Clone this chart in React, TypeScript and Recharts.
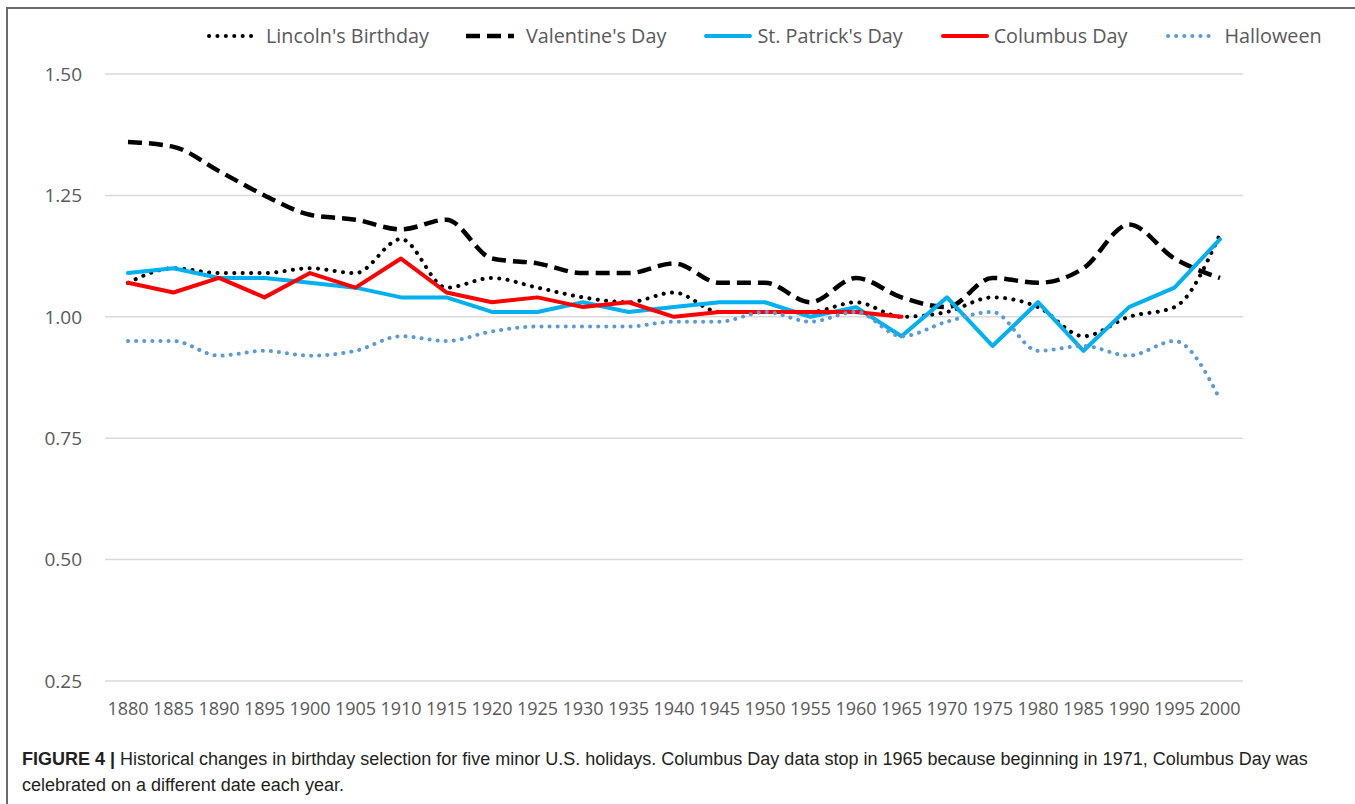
import React from 'react';
import { LineChart, Line, XAxis, YAxis, CartesianGrid, Legend } from 'recharts';

const years = ['1880','1885','1890','1895','1900','1905','1910','1915','1920','1925','1930','1935','1940','1945','1950','1955','1960','1965','1970','1975','1980','1985','1990','1995','2000'];
const lincoln = [1.07,1.10,1.09,1.09,1.10,1.09,1.16,1.06,1.08,1.06,1.04,1.03,1.05,1.01,1.01,1.01,1.03,1.00,1.01,1.04,1.02,0.96,1.00,1.02,1.17];
const valentine = [1.36,1.35,1.30,1.25,1.21,1.20,1.18,1.20,1.12,1.11,1.09,1.09,1.11,1.07,1.07,1.03,1.08,1.04,1.02,1.08,1.07,1.10,1.19,1.12,1.08];
const stPatrick = [1.09,1.10,1.08,1.08,1.07,1.06,1.04,1.04,1.01,1.01,1.03,1.01,1.02,1.03,1.03,1.00,1.02,0.96,1.04,0.94,1.03,0.93,1.02,1.06,1.16];
const columbus: (number | null)[] = [1.07,1.05,1.08,1.04,1.09,1.06,1.12,1.05,1.03,1.04,1.02,1.03,1.00,1.01,1.01,1.01,1.01,1.00,null,null,null,null,null,null,null];
const halloween = [0.95,0.95,0.92,0.93,0.92,0.93,0.96,0.95,0.97,0.98,0.98,0.98,0.99,0.99,1.01,0.99,1.01,0.96,0.99,1.01,0.93,0.94,0.92,0.95,0.83];
const yTicks = [0.25, 0.5, 0.75, 1.0, 1.25, 1.5];

const captionLabel = 'FIGURE 4 |';
const captionLine1 = 'Historical changes in birthday selection for five minor U.S. holidays. Columbus Day data stop in 1965 because beginning in 1971, Columbus Day was';
const captionLine2 = 'celebrated on a different date each year.';

const data = years.map((y, i) => ({
  year: y,
  lincoln: lincoln[i],
  valentine: valentine[i],
  stPatrick: stPatrick[i],
  columbus: columbus[i],
  halloween: halloween[i],
}));

type S = { key: string; name: string; color: string; width: number; dash?: string; cap: 'round' | 'butt'; curve: 'monotone' | 'linear' };
const series: S[] = [
  { key: 'lincoln', name: "Lincoln's Birthday", color: '#000000', width: 4, dash: '0.1 8.3', cap: 'round', curve: 'monotone' },
  { key: 'valentine', name: "Valentine's Day", color: '#000000', width: 4.5, dash: '14 7', cap: 'butt', curve: 'monotone' },
  { key: 'stPatrick', name: "St. Patrick's Day", color: '#00b0f0', width: 4, cap: 'round', curve: 'linear' },
  { key: 'columbus', name: 'Columbus Day', color: '#ff0000', width: 4, cap: 'round', curve: 'linear' },
  { key: 'halloween', name: 'Halloween', color: '#5b9bd5', width: 4, dash: '0.1 8', cap: 'round', curve: 'monotone' },
];

const FONT = '"Open Sans", sans-serif';

const LegendContent = (props: any) => {
  const payload = [...(props.payload || [])].sort(
    (a: any, b: any) => series.findIndex((s) => s.name === a.value) - series.findIndex((s) => s.name === b.value)
  );
  return (
    <div style={{ display: 'flex', alignItems: 'center', whiteSpace: 'nowrap', fontFamily: FONT, fontSize: 19.8, color: '#595959' }}>
      {payload.map((p: any, i: number) => {
        const s = series.find((x) => x.name === p.value) || series[0];
        return (
          <div key={i} style={{ display: 'flex', alignItems: 'center', marginRight: i < payload.length - 1 ? 37 : 0 }}>
            <svg width={50} height={10} style={{ display: 'block' }}>
              <line x1={s.cap === 'round' ? 3 : 0} y1={5} x2={s.cap === 'round' ? 47 : 48} y2={5} stroke={s.color} strokeWidth={s.width}
                strokeDasharray={s.dash} strokeLinecap={s.cap} />
            </svg>
            <span style={{ marginLeft: s.dash ? 10 : 4 }}>{p.value}</span>
          </div>
        );
      })}
    </div>
  );
};

export default function App() {
  const capStyle: React.CSSProperties = { fontFamily: '"Liberation Sans", Arial, sans-serif', fontSize: 18, lineHeight: '26px', color: '#231f20', whiteSpace: 'nowrap' };
  return (
    <div style={{ position: 'absolute', left: 0, top: 0, width: 1355, height: 804, background: '#fff', overflow: 'hidden' }}>
      <div style={{ position: 'absolute', left: 6, top: 7, width: 1400, height: 900, borderLeft: '2px solid #6b6b6b', borderTop: '2px solid #6b6b6b' }} />
      <div style={{ position: 'absolute', left: 0, top: 0 }}>
        <LineChart width={1355} height={740} data={data} margin={{ top: 74, right: 112, bottom: 0, left: 0 }}>
          <CartesianGrid vertical={false} stroke="#d9d9d9" strokeWidth={1.5} />
          <XAxis dataKey="year" axisLine={false} tickLine={false} interval={0} height={59} tickMargin={15}
            padding={{ left: 23, right: 23 }}
            tick={{ fontFamily: FONT, fontSize: 18, fill: '#595959' }} />
          <YAxis domain={[0.25, 1.5]} ticks={yTicks} axisLine={false} tickLine={false} width={105} tickMargin={17}
            tickFormatter={(v: number) => v.toFixed(2)} tick={{ fontFamily: FONT, fontSize: 19, fill: '#595959' }} />
          <Legend verticalAlign="middle" align="center" layout="horizontal" content={LegendContent}
            wrapperStyle={{ top: 22, left: 206, width: 'auto', height: 'auto' }} />
          {series.map((s) => (
            <Line key={s.key} dataKey={s.key} name={s.name} type={s.curve} stroke={s.color} strokeWidth={s.width}
              strokeDasharray={s.dash} strokeLinecap={s.cap} strokeLinejoin="round" dot={false} activeDot={false}
              isAnimationActive={false} connectNulls={false} />
          ))}
        </LineChart>
      </div>
      <div style={{ ...capStyle, position: 'absolute', left: 22, top: 746 }}>
        <span style={{ fontWeight: 'bold' }}>{captionLabel}</span> <span>{captionLine1}</span>
      </div>
      <div style={{ ...capStyle, position: 'absolute', left: 22, top: 772 }}>{captionLine2}</div>
    </div>
  );
}
